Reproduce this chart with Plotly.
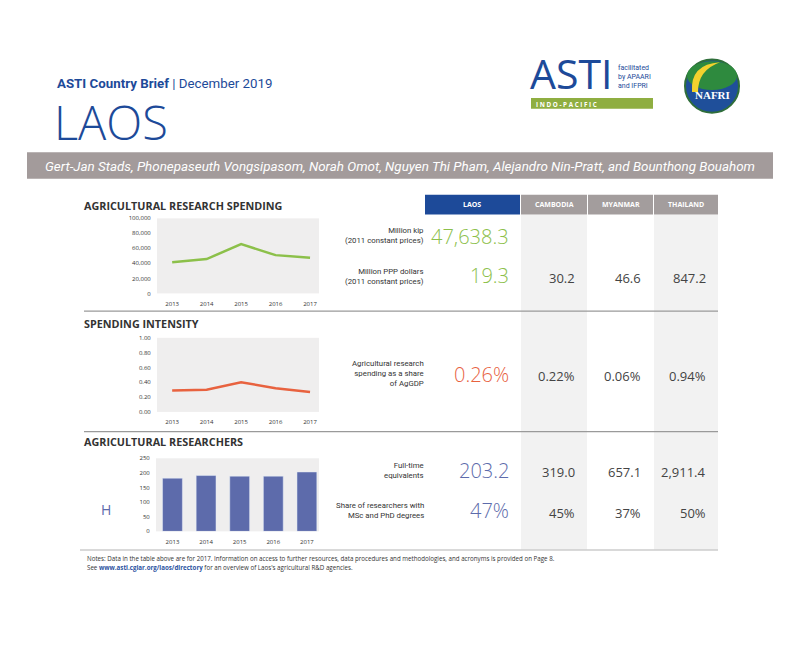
import plotly.graph_objects as go

# ---------------- data ----------------
years = [2013, 2014, 2015, 2016, 2017]
spending_kip_series = [41600, 45800, 65600, 51000, 47638.3]
intensity_series = [0.29, 0.30, 0.40, 0.32, 0.27]
researchers_series = [182, 191, 189, 189, 203.2]

countries = ["LAOS", "CAMBODIA", "MYANMAR", "THAILAND"]
spending_kip = [47638.3, None, None, None]
spending_ppp = [19.3, 30.2, 46.6, 847.2]
intensity_share = [0.26, 0.22, 0.06, 0.94]
fte = [203.2, 319.0, 657.1, 2911.4]
share_msc_phd = [47, 45, 37, 50]

spend_ticks = [0, 20000, 40000, 60000, 80000, 100000]
intensity_ticks = [0.0, 0.2, 0.4, 0.6, 0.8, 1.0]
researcher_ticks = [0, 50, 100, 150, 200, 250]

# ---------------- styling ----------------
OFF = 8  # page body margin
W, H = 800 - 2 * OFF, 650 - 2 * OFF
BLUE = "#1d4a99"
GREEN = "#8cc04a"
RED = "#e8623f"
PURPLE = "#5d6bab"
GRAYHDR = "#a39d9d"
COLBG = "#f2f2f2"
PLOTBG = "#efeeee"
TXT = "#333333"
COND = "Roboto, sans-serif"
SANS = "Open Sans, Noto Sans, sans-serif"


def px(x):
    return (x - OFF) / W


def py(y):
    return 1 - (y - OFF) / H


fig = go.Figure()

# small charts
fig.add_trace(go.Scatter(x=years, y=spending_kip_series, mode="lines",
                         line=dict(color=GREEN, width=2.5), xaxis="x", yaxis="y",
                         hoverinfo="skip"))
fig.add_trace(go.Scatter(x=years, y=intensity_series, mode="lines",
                         line=dict(color=RED, width=2.5), xaxis="x2", yaxis="y2",
                         hoverinfo="skip"))
fig.add_trace(go.Bar(x=years, y=researchers_series, marker_color=PURPLE, width=0.59,
                     xaxis="x3", yaxis="y3", hoverinfo="skip"))

tickfont = dict(family=SANS, size=6, color=TXT)


def xax(x0, x1, rng):
    return dict(domain=[px(x0), px(x1)], range=rng, tickvals=years,
                ticktext=[str(y) for y in years], showgrid=False, zeroline=False,
                showline=False, tickfont=tickfont, ticks="outside", ticklen=4,
                tickcolor="rgba(0,0,0,0)", fixedrange=True)


def yax(y_top, y_bot, rng, tv, tt, anchor):
    return dict(domain=[py(y_bot), py(y_top)], range=rng, tickvals=tv, ticktext=tt,
                showgrid=False, zeroline=False, showline=False, tickfont=tickfont,
                ticks="outside", ticklen=4, tickcolor="rgba(0,0,0,0)",
                anchor=anchor, fixedrange=True)


fig.update_layout(
    width=W, height=H, margin=dict(l=0, r=0, t=0, b=0),
    paper_bgcolor="white", plot_bgcolor=PLOTBG, showlegend=False,
    xaxis=dict(**xax(157, 319, [2012.56, 2017.26]), anchor="y"),
    yaxis=yax(217, 293, [0, 100000], spend_ticks,
              [f"{v:,}" for v in spend_ticks], "x"),
    xaxis2=dict(**xax(157, 319, [2012.56, 2017.26]), anchor="y2"),
    yaxis2=yax(338, 413, [0, 1.0], intensity_ticks,
               [f"{v:.2f}" for v in intensity_ticks], "x2"),
    xaxis3=dict(**xax(156, 319, [2012.51, 2017.36]), anchor="y3"),
    yaxis3=yax(460, 534, [0, 250], researcher_ticks,
               [str(v) for v in researcher_ticks], "x3"),
    bargap=0.4,
)

shapes = []
annotations = []


def rect(x0, y0, x1, y1, color, layer="below"):
    shapes.append(dict(type="rect", xref="paper", yref="paper", x0=px(x0), x1=px(x1),
                       y0=py(y1), y1=py(y0), fillcolor=color, line=dict(width=0),
                       layer=layer))


def hline(x0, x1, y, color, width=1):
    shapes.append(dict(type="line", xref="paper", yref="paper", x0=px(x0), x1=px(x1),
                       y0=py(y), y1=py(y), line=dict(color=color, width=width),
                       layer="above"))


def text(x, y, s, size, color=TXT, family=SANS, xanchor="left", yanchor="middle",
         align="left", weight=None):
    f = dict(size=size, color=color, family=family)
    if weight:
        f["weight"] = weight
    annotations.append(dict(x=px(x), y=py(y), xref="paper", yref="paper", text=s,
                            showarrow=False, xanchor=xanchor, yanchor=yanchor,
                            align=align, font=f, borderpad=0))


# ---------------- header ----------------
text(56, 80, "<b>ASTI Country Brief</b> | December 2019", 13.3, BLUE, COND)
text(53, 119, "LAOS", 47, BLUE, SANS, weight=300)
rect(27, 150, 773, 177, "#a39b9b")
text(400, 164, "<i>Gert-Jan Stads, Phonepaseuth Vongsipasom, Norah Omot, Nguyen Thi Pham, "
     "Alejandro Nin-Pratt, and Bounthong Bouahom</i>", 13.4, "white", COND,
     xanchor="center")

# ASTI logo
text(529, 70, "ASTI", 41, BLUE, SANS, weight=400)
text(617, 74, "facilitated<br>by APAARI<br>and IFPRI", 7, BLUE, COND)
rect(531, 95, 653, 106, "#8fae41", layer="above")
text(535, 101.4, "<b>I N D O - P A C I F I C</b>", 6.3, "white", SANS)

# NAFRI logo
cx, cy, r = 712, 83, 27
shapes.append(dict(type="circle", xref="paper", yref="paper", x0=px(cx - r), x1=px(cx + r),
                   y0=py(cy + r), y1=py(cy - r), fillcolor="#1f4f9a",
                   line=dict(color="#2f6e3a", width=2), layer="above"))
shapes.append(dict(type="circle", xref="paper", yref="paper", x0=px(cx - r + 2),
                   x1=px(cx + r - 2), y0=py(cy + 4), y1=py(cy - r + 2),
                   fillcolor="#2e8a3e", line=dict(width=0), layer="above"))
shapes.append(dict(type="path", xref="paper", yref="paper",
                   path=(f"M {px(cx-20)} {py(cy+6)} Q {px(cx-22)} {py(cy-22)} {px(cx+8)} {py(cy-24)} "
                         f"Q {px(cx-14)} {py(cy-16)} {px(cx-14)} {py(cy+6)} Z"),
                   fillcolor="#f2d12e", line=dict(width=0), layer="above"))
text(cx, cy + 9, "<b>NAFRI</b>", 11, "white", "Liberation Serif, DejaVu Serif, serif",
     xanchor="center")

# ---------------- table ----------------
col_x = [(425, 520), (521, 587), (588, 653), (654, 718)]
col_right = [510, 576, 642, 707]
for i, (x0, x1) in enumerate(col_x):
    if i in (1, 3):
        rect(x0, 213, x1, 553, COLBG)
    rect(x0, 193, x1, 213, BLUE if i == 0 else GRAYHDR)
    text((x0 + x1) / 2, 203, f"<b>{countries[i]}</b>", 7, "white", SANS,
         xanchor="center")

# section lines
hline(84, 718, 311, "#9a9a9a", 1.2)
hline(84, 718, 433, "#9a9a9a", 1.2)
hline(80, 718, 553, "#cccccc", 1.5)

# section titles
text(83, 204, "<b>AGRICULTURAL RESEARCH SPENDING</b>", 10.8, TXT, SANS)
text(83, 323, "<b>SPENDING INTENSITY</b>", 10.8, TXT, SANS)
text(83, 443, "<b>AGRICULTURAL RESEARCHERS</b>", 10.8, TXT, SANS)

# row labels
lab = dict(xanchor="right", align="right", family=COND)
LS = 7.8
text(425, 234, "Million kip<br>(2011 constant prices)", LS, TXT, **lab)
text(425, 276, "Million PPP dollars<br>(2011 constant prices)", LS, TXT, **lab)
text(425, 374, "Agricultural research<br>spending as a share<br>of AgGDP", LS, TXT, **lab)
text(425, 472, "Full-time<br>equivalents", LS, TXT, **lab)
text(425, 513, "Share of researchers with<br>MSc and PhD degrees", LS, TXT, **lab)

# values
big = 20
text(col_right[0], 235, f"{spending_kip[0]:,.1f}", big, GREEN, SANS, xanchor="right", weight=300)
text(col_right[0], 275, f"{spending_ppp[0]:,.1f}", big, GREEN, SANS, xanchor="right", weight=300)
text(col_right[0], 375, f"{intensity_share[0]:.2f}%", big, RED, SANS, xanchor="right", weight=300)
text(col_right[0], 472, f"{fte[0]:,.1f}", big, PURPLE, SANS, xanchor="right", weight=300)
text(col_right[0], 513, f"{share_msc_phd[0]}%", big, PURPLE, SANS, xanchor="right", weight=300)
SM = 13
for i in range(1, 4):
    text(col_right[i], 277, f"{spending_ppp[i]:,.1f}", SM, "#444444", SANS, xanchor="right")
    text(col_right[i], 377, f"{intensity_share[i]:.2f}%", SM, "#444444", SANS, xanchor="right")
    text(col_right[i], 474, f"{fte[i]:,.1f}", SM, "#444444", SANS, xanchor="right")
    text(col_right[i], 515, f"{share_msc_phd[i]}%", SM, "#444444", SANS, xanchor="right")

# H marker
text(106, 512, "H", 14, PURPLE, SANS, xanchor="center")

# notes
text(86, 561, "Notes: Data in the table above are for 2017. Information on access to further "
     "resources, data procedures and methodologies, and acronyms is provided on Page 8.",
     6.2, TXT, SANS)
text(86, 571, "See <span style='color:#2a52a0'><b>www.asti.cgiar.org/laos/directory</b></span> "
     "for an overview of Laos's agricultural R&amp;D agencies.", 6.2, TXT, SANS)

fig.update_layout(shapes=shapes, annotations=annotations)
fig.write_html("out.html")
